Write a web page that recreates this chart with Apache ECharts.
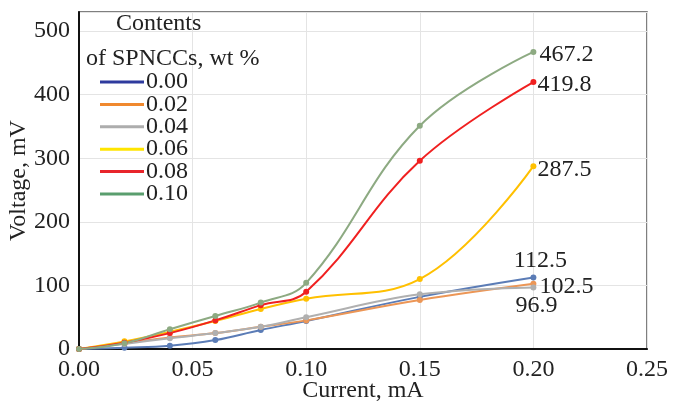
<!DOCTYPE html>
<html>
<head>
<meta charset="utf-8">
<script src="https://cdn.jsdelivr.net/npm/echarts@6/dist/echarts.min.js"></script>
<style>html,body{margin:0;padding:0;background:#fff}#c{width:673px;height:405px}</style>
</head>
<body>
<div id="c"></div>
<script>
const currents = [0, 0.02, 0.04, 0.06, 0.08, 0.10, 0.15, 0.20];
const seriesNames = ['0.00', '0.02', '0.04', '0.06', '0.08', '0.10'];
const v000 = [0, 2, 5, 14, 30, 44, 82, 112.5];
const v002 = [0, 9, 18, 25, 35, 45, 77, 102.5];
const v004 = [0, 8, 17, 25, 35, 50, 86, 96.9];
const v006 = [0, 12, 27, 44, 63, 79, 110, 287.5];
const v008 = [0, 10, 25, 45, 69, 90, 296, 419.8];
const v010 = [0, 9, 31, 52, 73, 104, 351, 467.2];
const xTicks = [0, 0.05, 0.10, 0.15, 0.20, 0.25];
const yTicks = [0, 100, 200, 300, 400, 500];

const values = [v000, v002, v004, v006, v008, v010];
const lineColors = ['#5b7cb6', '#ec9656', '#b0b0b0', '#ffc000', '#f02020', '#8daa82'];
const legendColors = ['#2e3b9e', '#f0892e', '#adadad', '#ffe500', '#e8252b', '#5a9e6e'];
const labelCfg = [
  {position: 'top', distance: 2, offset: [7, 0]},
  {position: 'right', distance: 3, offset: [0, 3]},
  {position: 'bottom', distance: 3, offset: [3, 0]},
  {position: 'right', distance: 1, offset: [0, 4]},
  {position: 'right', distance: 1, offset: [0, 3]},
  {position: 'right', distance: 3, offset: [0, 3]}
];
const FONT = 'Liberation Serif';

const series = values.map((vals, i) => ({
  name: seriesNames[i],
  type: 'line',
  smooth: 0.4,
  symbol: 'circle',
  symbolSize: 6,
  lineStyle: {width: 2, color: lineColors[i]},
  itemStyle: {color: lineColors[i]},
  data: vals.map((v, j) => {
    const p = {value: [currents[j], v]};
    if (j === vals.length - 1) {
      p.label = Object.assign({
        show: true,
        formatter: String(v.toFixed(1)),
        fontFamily: FONT, fontSize: 24, color: '#222'
      }, labelCfg[i]);
    }
    return p;
  })
}));

const chart = echarts.init(document.getElementById('c'));
chart.setOption({
  animation: false,
  backgroundColor: '#fff',
  title: [
    {text: 'Contents', left: 111, top: 7, textStyle: {fontFamily: FONT, fontSize: 24, fontWeight: 'normal', color: '#222'}},
    {text: 'of SPNCCs, wt %', left: 81, top: 42, textStyle: {fontFamily: FONT, fontSize: 24, fontWeight: 'normal', color: '#222'}}
  ],
  legend: {
    orient: 'vertical',
    left: 95, top: 65,
    itemWidth: 44, itemHeight: 3,
    itemGap: -1.6,
    icon: 'rect',
    textStyle: {fontFamily: FONT, fontSize: 24, color: '#222', padding: [0, 0, 0, -3]},
    data: seriesNames.map((n, i) => ({name: n, itemStyle: {color: legendColors[i]}}))
  },
  grid: {left: 79, right: 26, top: 12, bottom: 56, show: true, borderColor: '#555', borderWidth: 1.5,
    outerBoundsMode: 'none', containLabel: false},
  xAxis: {
    type: 'value', min: xTicks[0], max: xTicks[xTicks.length - 1], interval: 0.05,
    name: 'Current, mA', nameLocation: 'middle', nameGap: 30, nameMoveOverlap: false,
    nameTextStyle: {fontFamily: FONT, fontSize: 24, color: '#222'},
    axisLine: {show: true, lineStyle: {color: '#111', width: 2}},
    axisTick: {show: false},
    splitLine: {show: true, lineStyle: {color: '#e4e4e4', width: 1}},
    axisLabel: {fontFamily: FONT, fontSize: 24, color: '#222', margin: 9, formatter: v => v.toFixed(2)}
  },
  yAxis: {
    type: 'value', min: yTicks[0], max: 530, interval: 100,
    name: 'Voltage, mV', nameLocation: 'middle', nameGap: 48, nameMoveOverlap: false,
    nameTextStyle: {fontFamily: FONT, fontSize: 24, color: '#222'},
    axisLine: {show: true, lineStyle: {color: '#111', width: 2}},
    axisTick: {show: false},
    splitLine: {show: true, lineStyle: {color: '#e4e4e4', width: 1}},
    axisLabel: {fontFamily: FONT, fontSize: 24, color: '#222', margin: 9, showMaxLabel: false,
      formatter: v => (yTicks.indexOf(v) >= 0 ? String(v) : '')}
  },
  series: series
});
</script>
</body>
</html>
